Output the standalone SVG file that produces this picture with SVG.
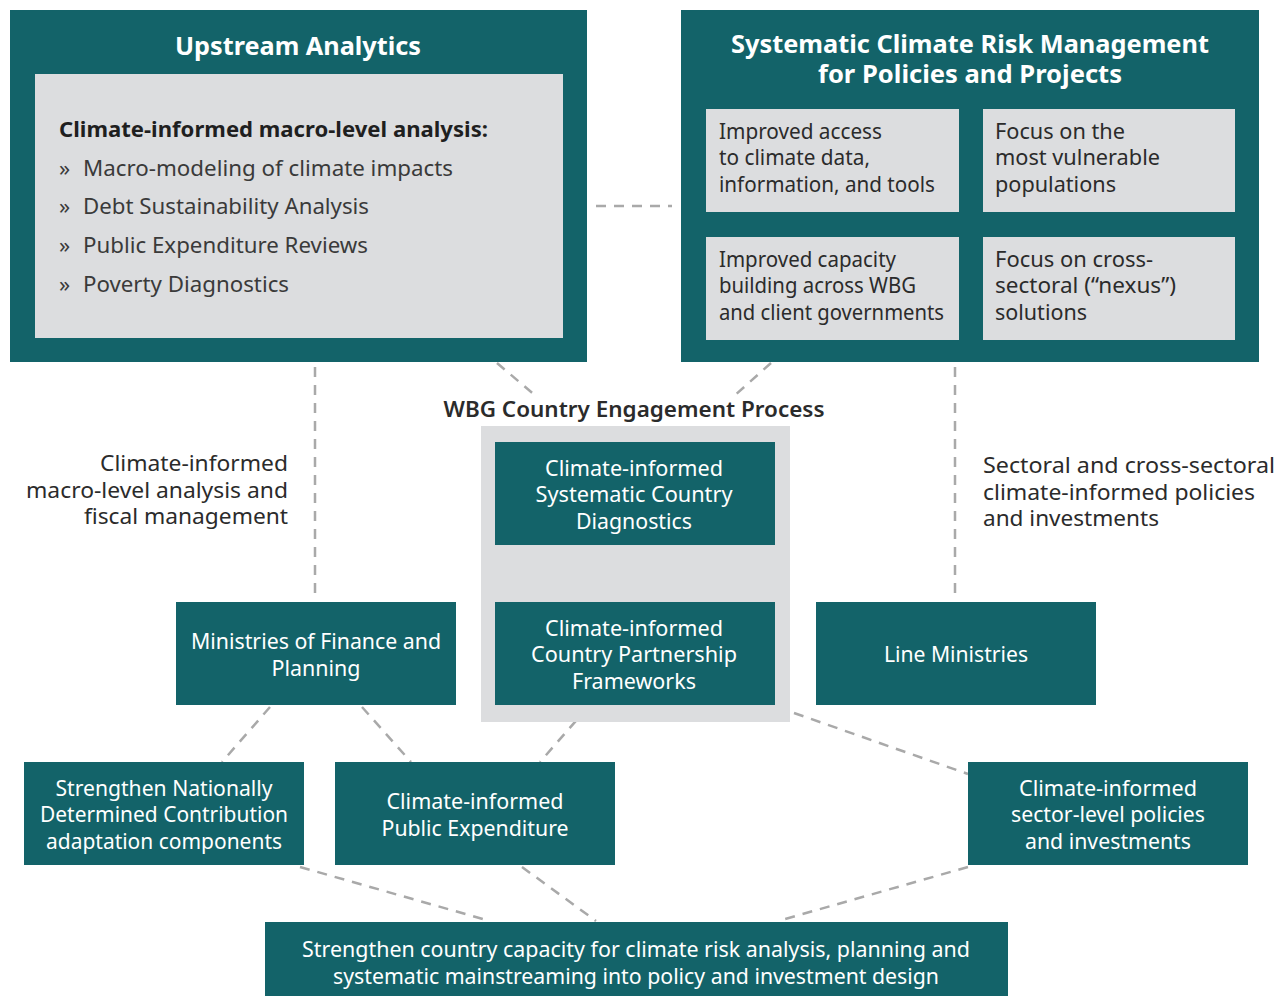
<svg xmlns="http://www.w3.org/2000/svg" width="1286" height="996" viewBox="0 0 1286 996">
<style>
.teal{fill:#136369}
.grey{fill:#dcdddf}
.t{font-family:"Noto Sans","Open Sans","Liberation Sans",sans-serif}
.w{fill:#ffffff;font-size:21px}
.wb{fill:#ffffff;font-size:25px;font-weight:bold}
.d{fill:#2b2b2b;font-size:21px}
.dl{fill:#3a3a3a;font-size:22px}
.db{fill:#1f1f1f;font-size:21px;font-weight:bold}
.c{stroke:#a9a9a9;stroke-width:2.5;stroke-dasharray:10 8;fill:none}
</style>
<rect width="1286" height="996" fill="#ffffff"/>
<g id="connectors">
<line class="c" x1="596" y1="206" x2="672" y2="206"/>
<line class="c" x1="315" y1="367" x2="315" y2="594"/>
<line class="c" x1="955" y1="367" x2="955" y2="594"/>
<line class="c" x1="497" y1="363" x2="537" y2="397"/>
<line class="c" x1="576" y1="431" x2="584" y2="438"/>
<line class="c" x1="771" y1="363" x2="733" y2="397"/>
<line class="c" x1="694" y1="431" x2="686" y2="438"/>
<line class="c" x1="635" y1="550" x2="635" y2="598"/>
<line class="c" x1="270" y1="707" x2="222" y2="762"/>
<line class="c" x1="362" y1="707" x2="411" y2="762"/>
<line class="c" x1="588" y1="707" x2="540" y2="762"/>
<line class="c" x1="777" y1="707" x2="968" y2="774"/>
<line class="c" x1="300" y1="867" x2="490" y2="921"/>
<line class="c" x1="522" y1="867" x2="596" y2="921"/>
<line class="c" x1="968" y1="867" x2="778" y2="921"/>
</g>
<g id="upstream">
<rect class="teal" x="10" y="10" width="577" height="352"/>
<rect class="grey" x="35" y="74" width="528" height="264"/>
<text class="t wb" x="298" y="55" text-anchor="middle" textLength="246" lengthAdjust="spacingAndGlyphs">Upstream Analytics</text>
<text class="t db" x="59" y="137" textLength="429" lengthAdjust="spacingAndGlyphs">Climate-informed macro-level analysis:</text>
<text class="t dl" x="59" y="176">»</text>
<text class="t dl" x="83" y="176" textLength="370" lengthAdjust="spacingAndGlyphs">Macro-modeling of climate impacts</text>
<text class="t dl" x="59" y="214">»</text>
<text class="t dl" x="83" y="214" textLength="286" lengthAdjust="spacingAndGlyphs">Debt Sustainability Analysis</text>
<text class="t dl" x="59" y="253">»</text>
<text class="t dl" x="83" y="253" textLength="285" lengthAdjust="spacingAndGlyphs">Public Expenditure Reviews</text>
<text class="t dl" x="59" y="292">»</text>
<text class="t dl" x="83" y="292" textLength="206" lengthAdjust="spacingAndGlyphs">Poverty Diagnostics</text>
</g>
<g id="scrm">
<rect class="teal" x="681" y="10" width="578" height="352"/>
<text class="t wb" x="970" y="53" text-anchor="middle" textLength="478" lengthAdjust="spacingAndGlyphs">Systematic Climate Risk Management</text>
<text class="t wb" x="970" y="83" text-anchor="middle" textLength="304" lengthAdjust="spacingAndGlyphs">for Policies and Projects</text>
</g>
<g id="box-access">
<rect class="grey" x="706" y="109" width="253" height="103"/>
<text class="t d" x="719" y="139" textLength="163" lengthAdjust="spacingAndGlyphs">Improved access</text>
<text class="t d" x="719" y="165" textLength="151" lengthAdjust="spacingAndGlyphs">to climate data,</text>
<text class="t d" x="719" y="192" textLength="216" lengthAdjust="spacingAndGlyphs">information, and tools</text>
</g>
<g id="box-vulnerable">
<rect class="grey" x="983" y="109" width="252" height="103"/>
<text class="t d" x="995" y="139" textLength="130" lengthAdjust="spacingAndGlyphs">Focus on the</text>
<text class="t d" x="995" y="165" textLength="165" lengthAdjust="spacingAndGlyphs">most vulnerable</text>
<text class="t d" x="995" y="192" textLength="121" lengthAdjust="spacingAndGlyphs">populations</text>
</g>
<g id="box-capacity">
<rect class="grey" x="706" y="237" width="253" height="103"/>
<text class="t d" x="719" y="267" textLength="177" lengthAdjust="spacingAndGlyphs">Improved capacity</text>
<text class="t d" x="719" y="293" textLength="197" lengthAdjust="spacingAndGlyphs">building across WBG</text>
<text class="t d" x="719" y="320" textLength="225" lengthAdjust="spacingAndGlyphs">and client governments</text>
</g>
<g id="box-nexus">
<rect class="grey" x="983" y="237" width="252" height="103"/>
<text class="t d" x="995" y="267" textLength="158" lengthAdjust="spacingAndGlyphs">Focus on cross-</text>
<text class="t d" x="995" y="293" textLength="181" lengthAdjust="spacingAndGlyphs">sectoral (“nexus”)</text>
<text class="t d" x="995" y="320" textLength="92" lengthAdjust="spacingAndGlyphs">solutions</text>
</g>
<g id="label-macro">
<text class="t d" x="288" y="471" text-anchor="end" textLength="188" lengthAdjust="spacingAndGlyphs">Climate-informed</text>
<text class="t d" x="288" y="498" text-anchor="end" textLength="262" lengthAdjust="spacingAndGlyphs">macro-level analysis and</text>
<text class="t d" x="288" y="524" text-anchor="end" textLength="204" lengthAdjust="spacingAndGlyphs">fiscal management</text>
</g>
<g id="label-sectoral">
<text class="t d" x="983" y="473" textLength="292" lengthAdjust="spacingAndGlyphs">Sectoral and cross-sectoral</text>
<text class="t d" x="983" y="500" textLength="272" lengthAdjust="spacingAndGlyphs">climate-informed policies</text>
<text class="t d" x="983" y="526" textLength="176" lengthAdjust="spacingAndGlyphs">and investments</text>
</g>
<g id="wbg-process">
<rect class="grey" x="481" y="426" width="309" height="296"/>
<text class="t d" x="634" y="417" text-anchor="middle" font-weight="600" textLength="381" lengthAdjust="spacingAndGlyphs">WBG Country Engagement Process</text>
</g>
<g id="scd">
<rect class="teal" x="495" y="442" width="280" height="103"/>
<text class="t w" x="634" y="476" text-anchor="middle" textLength="178" lengthAdjust="spacingAndGlyphs">Climate-informed</text>
<text class="t w" x="634" y="502" text-anchor="middle" textLength="197" lengthAdjust="spacingAndGlyphs">Systematic Country</text>
<text class="t w" x="634" y="529" text-anchor="middle" textLength="116" lengthAdjust="spacingAndGlyphs">Diagnostics</text>
</g>
<g id="cpf">
<rect class="teal" x="495" y="602" width="280" height="103"/>
<text class="t w" x="634" y="636" text-anchor="middle" textLength="178" lengthAdjust="spacingAndGlyphs">Climate-informed</text>
<text class="t w" x="634" y="662" text-anchor="middle" textLength="206" lengthAdjust="spacingAndGlyphs">Country Partnership</text>
<text class="t w" x="634" y="689" text-anchor="middle" textLength="124" lengthAdjust="spacingAndGlyphs">Frameworks</text>
</g>
<g id="mof">
<rect class="teal" x="176" y="602" width="280" height="103"/>
<text class="t w" x="316" y="649" text-anchor="middle" textLength="250" lengthAdjust="spacingAndGlyphs">Ministries of Finance and</text>
<text class="t w" x="316" y="676" text-anchor="middle" textLength="89" lengthAdjust="spacingAndGlyphs">Planning</text>
</g>
<g id="line-ministries">
<rect class="teal" x="816" y="602" width="280" height="103"/>
<text class="t w" x="956" y="662" text-anchor="middle" textLength="144" lengthAdjust="spacingAndGlyphs">Line Ministries</text>
</g>
<g id="ndc">
<rect class="teal" x="24" y="762" width="280" height="103"/>
<text class="t w" x="164" y="796" text-anchor="middle" textLength="217" lengthAdjust="spacingAndGlyphs">Strengthen Nationally</text>
<text class="t w" x="164" y="822" text-anchor="middle" textLength="248" lengthAdjust="spacingAndGlyphs">Determined Contribution</text>
<text class="t w" x="164" y="849" text-anchor="middle" textLength="236" lengthAdjust="spacingAndGlyphs">adaptation components</text>
</g>
<g id="public-exp">
<rect class="teal" x="335" y="762" width="280" height="103"/>
<text class="t w" x="475" y="809" text-anchor="middle" textLength="177" lengthAdjust="spacingAndGlyphs">Climate-informed</text>
<text class="t w" x="475" y="836" text-anchor="middle" textLength="187" lengthAdjust="spacingAndGlyphs">Public Expenditure</text>
</g>
<g id="sector-level">
<rect class="teal" x="968" y="762" width="280" height="103"/>
<text class="t w" x="1108" y="796" text-anchor="middle" textLength="178" lengthAdjust="spacingAndGlyphs">Climate-informed</text>
<text class="t w" x="1108" y="822" text-anchor="middle" textLength="194" lengthAdjust="spacingAndGlyphs">sector-level policies</text>
<text class="t w" x="1108" y="849" text-anchor="middle" textLength="166" lengthAdjust="spacingAndGlyphs">and investments</text>
</g>
<g id="capacity">
<rect class="teal" x="265" y="922" width="743" height="74"/>
<text class="t w" x="636" y="957" text-anchor="middle" textLength="668" lengthAdjust="spacingAndGlyphs">Strengthen country capacity for climate risk analysis, planning and</text>
<text class="t w" x="636" y="984" text-anchor="middle" textLength="606" lengthAdjust="spacingAndGlyphs">systematic mainstreaming into policy and investment design</text>
</g>
</svg>
